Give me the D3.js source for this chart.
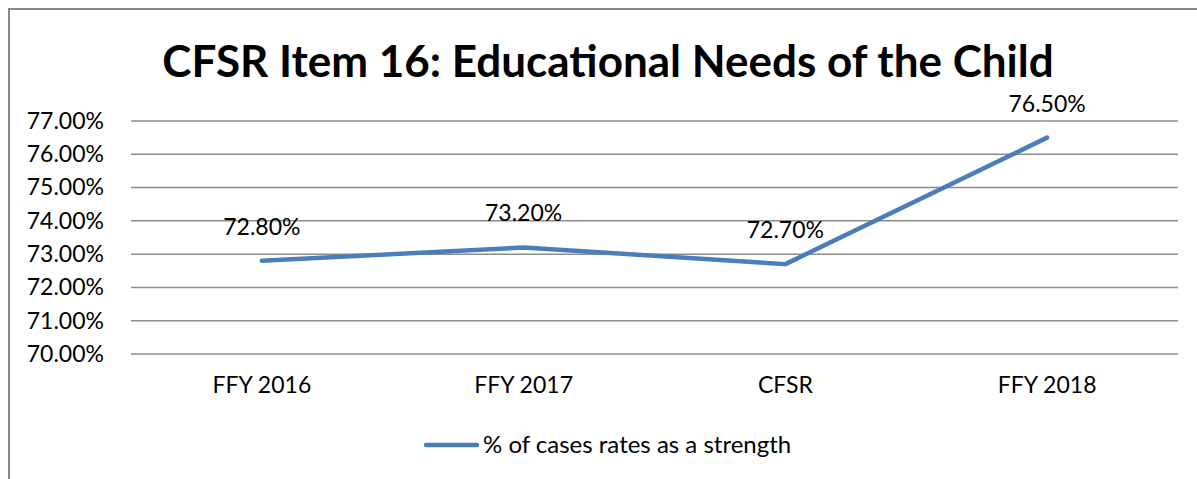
<!DOCTYPE html>
<html><head><meta charset="utf-8">
<script src="https://cdn.jsdelivr.net/npm/d3@7"></script>
<style>body{margin:0;background:#fff}svg{display:block}text{font-family:Lato,"Open Sans",sans-serif}</style>
</head><body><svg id="c" width="1197" height="479"></svg>
<script>
const categories = ["FFY 2016","FFY 2017","CFSR","FFY 2018"];
const values = [72.8, 73.2, 72.7, 76.5];
const yTicks = [70,71,72,73,74,75,76,77];
const seriesName = "% of cases rates as a strength";
const title = "CFSR Item 16: Educational Needs of the Child";

const svg = d3.select("#c");
svg.append("rect").attr("x",9).attr("y",9).attr("width",1197).attr("height",500)
  .attr("fill","#fff").attr("stroke","#888").attr("stroke-width",2);

const x = d3.scaleBand().domain(categories).range([131,1178]);
const y = d3.scaleLinear().domain([70,77]).range([354,121]);

svg.append("g").selectAll("line").data(yTicks).join("line")
  .attr("x1",131).attr("x2",1178).attr("y1",d=>y(d)).attr("y2",d=>y(d))
  .attr("stroke","#8c8c8c").attr("stroke-width",1.5);

const yAxis = d3.axisLeft(y).tickValues(yTicks).tickSize(0).tickPadding(27)
  .tickFormat(d=>d3.format(".2f")(d)+"%");
svg.append("g").attr("transform","translate(131,0)").call(yAxis)
  .call(s=>s.select(".domain").remove())
  .selectAll("text").attr("font-size",23).attr("fill","#000").attr("font-family","Lato,sans-serif");

const xAxis = d3.axisBottom(x).tickSize(0).tickPadding(23);
svg.append("g").attr("transform","translate(0,354)").call(xAxis)
  .call(s=>s.select(".domain").remove())
  .selectAll("text").attr("font-size",23).attr("fill","#000").attr("font-family","Lato,sans-serif");

const cx = d => x(d) + x.bandwidth()/2;
const line = d3.line().x((d,i)=>cx(categories[i])).y(d=>y(d));
svg.append("path").datum(values).attr("d",line).attr("fill","none")
  .attr("stroke","#4A7EBB").attr("stroke-width",4.5).attr("stroke-linejoin","round").attr("stroke-linecap","round");

svg.selectAll("text.lbl").data(values).join("text").attr("class","lbl")
  .attr("x",(d,i)=>cx(categories[i])).attr("y",d=>y(d)-26)
  .attr("text-anchor","middle").attr("font-size",23).attr("fill","#000")
  .text(d=>d3.format(".2f")(d)+"%");

svg.append("text").attr("x",608).attr("y",77).attr("text-anchor","middle")
  .attr("font-size",44).attr("font-weight","bold").attr("fill","#000").text(title);

svg.append("line").attr("x1",426).attr("x2",477).attr("y1",445).attr("y2",445)
  .attr("stroke","#4A7EBB").attr("stroke-width",4.5).attr("stroke-linecap","round");
svg.append("text").attr("x",483).attr("y",453).attr("font-size",24).attr("fill","#000").text(seriesName);
</script></body></html>
